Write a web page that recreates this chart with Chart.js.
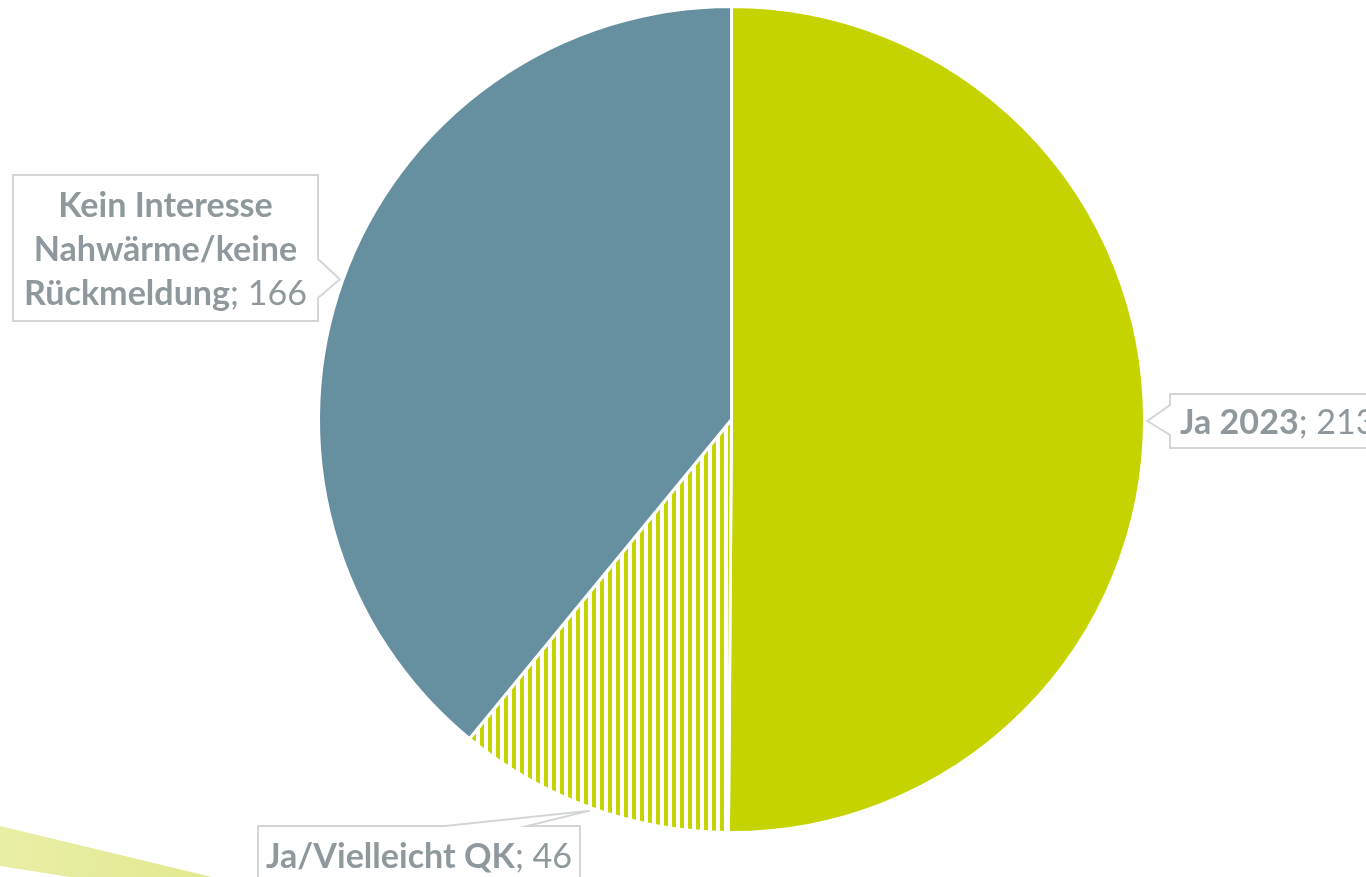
<!DOCTYPE html>
<html>
<head>
<meta charset="utf-8">
<script src="https://cdn.jsdelivr.net/npm/chart.js@4/dist/chart.umd.min.js"></script>
<style>
  html, body { margin: 0; padding: 0; background: #ffffff; }
  #wrap { position: relative; width: 1366px; height: 877px; }
</style>
</head>
<body>
<div id="wrap"><canvas id="c" width="1366" height="877"></canvas></div>
<script>
// ---- data ----
const categories = ["Ja 2023", "Ja/Vielleicht QK", "Kein Interesse Nahwärme/keine Rückmeldung"];
const labelLines = [["Ja 2023"], ["Ja/Vielleicht QK"], ["Kein Interesse", "Nahwärme/keine", "Rückmeldung"]];
const values = [213, 46, 166];
const GREEN = "#C5D400";
const BLUE = "#668F9F";
const TEXT = "#8F999D";
const BOXLINE = "#D3D6D8";

// hatch pattern for the second slice
function makeHatch() {
  const p = document.createElement("canvas");
  p.width = 8; p.height = 8;
  const g = p.getContext("2d");
  g.fillStyle = "#ffffff"; g.fillRect(0, 0, 8, 8);
  g.fillStyle = GREEN; g.fillRect(0, 0, 4, 8);
  return document.getElementById("c").getContext("2d").createPattern(p, "repeat");
}
const colors = [GREEN, makeHatch(), BLUE];

// label box layout (annotation placement)
const boxes = [
  { x: 1170, y: 394, w: 230, h: 54, side: "left", notch: [405, 435], lineH: 44 },
  { x: 258, y: 826, w: 322, h: 70, side: "top", notch: [445, 527], lineH: 44 },
  { x: 13, y: 175, w: 305, h: 146, side: "right", notch: [259, 298], lineH: 44 }
];

const decoPlugin = {
  id: "deco",
  beforeDraw(chart) {
    const ctx = chart.ctx;
    ctx.save();
    ctx.fillStyle = "#ffffff";
    ctx.fillRect(0, 0, chart.width, chart.height);
    const grad = ctx.createLinearGradient(0, 0, 210, 0);
    grad.addColorStop(0, "#E9EEA6");
    grad.addColorStop(1, "#E2E990");
    ctx.fillStyle = grad;
    ctx.beginPath();
    ctx.moveTo(0, 826);
    ctx.lineTo(212, 877);
    ctx.lineTo(70, 877);
    ctx.lineTo(0, 866);
    ctx.closePath();
    ctx.fill();
    ctx.restore();
  }
};

const labelPlugin = {
  id: "callouts",
  afterDraw(chart) {
    const ctx = chart.ctx;
    const meta = chart.getDatasetMeta(0);
    const fam = "Lato, 'Open Sans', sans-serif";
    // fit font so bold "Kein Interesse" is ~215px wide
    ctx.save();
    ctx.font = "bold 100px " + fam;
    const fs = Math.round(100 * 215 / ctx.measureText("Kein Interesse").width * 10) / 10;
    ctx.restore();
    meta.data.forEach((arc, i) => {
      const b = boxes[i];
      const mid = (arc.startAngle + arc.endAngle) / 2;
      const r = arc.outerRadius + 3;
      const tx = arc.x + Math.cos(mid) * r;
      const ty = arc.y + Math.sin(mid) * r;
      ctx.save();
      ctx.strokeStyle = BOXLINE;
      ctx.lineWidth = 2;
      ctx.fillStyle = "#ffffff";
      ctx.beginPath();
      const x0 = b.x, y0 = b.y, x1 = b.x + b.w, y1 = b.y + b.h;
      ctx.moveTo(x0, y0);
      if (b.side === "top") {
        ctx.lineTo(b.notch[0], y0); ctx.lineTo(tx, ty); ctx.lineTo(b.notch[1], y0);
      }
      ctx.lineTo(x1, y0);
      if (b.side === "right") {
        ctx.lineTo(x1, b.notch[0]); ctx.lineTo(tx, ty); ctx.lineTo(x1, b.notch[1]);
      }
      ctx.lineTo(x1, y1);
      ctx.lineTo(x0, y1);
      if (b.side === "left") {
        ctx.lineTo(x0, b.notch[1]); ctx.lineTo(tx, ty); ctx.lineTo(x0, b.notch[0]);
      }
      ctx.closePath();
      ctx.fill();
      ctx.stroke();

      // text
      const lines = labelLines[i];
      const valStr = "; " + values[i];
      const cx = b.side === "left" ? null : (x0 + x1) / 2;
      const top = b.side === "top" ? y0 + 31 : (y0 + y1) / 2 - (lines.length - 1) * b.lineH / 2 + 2;
      ctx.fillStyle = TEXT;
      ctx.textBaseline = "middle";
      lines.forEach((ln, k) => {
        const y = top + k * b.lineH;
        const isLast = k === lines.length - 1;
        ctx.font = "bold " + fs + "px " + fam;
        const wb = ctx.measureText(ln).width;
        ctx.font = fs + "px " + fam;
        const wv = isLast ? ctx.measureText(valStr).width : 0;
        const total = wb + wv;
        let sx = cx === null ? x0 + 10 : cx - total / 2;
        ctx.textAlign = "left";
        ctx.font = "bold " + fs + "px " + fam;
        ctx.fillText(ln, sx, y);
        if (isLast) {
          ctx.font = fs + "px " + fam;
          ctx.fillText(valStr, sx + wb, y);
        }
      });
      ctx.restore();
    });
  }
};

new Chart(document.getElementById("c"), {
  type: "pie",
  data: {
    labels: categories,
    datasets: [{
      data: values,
      backgroundColor: colors,
      borderColor: "#ffffff",
      borderWidth: 3
    }]
  },
  options: {
    responsive: false,
    animation: false,
    layout: { padding: { left: 97, right: 0, top: 5, bottom: 43 } },
    plugins: { legend: { display: false }, tooltip: { enabled: false } }
  },
  plugins: [decoPlugin, labelPlugin]
});
</script>
</body>
</html>
